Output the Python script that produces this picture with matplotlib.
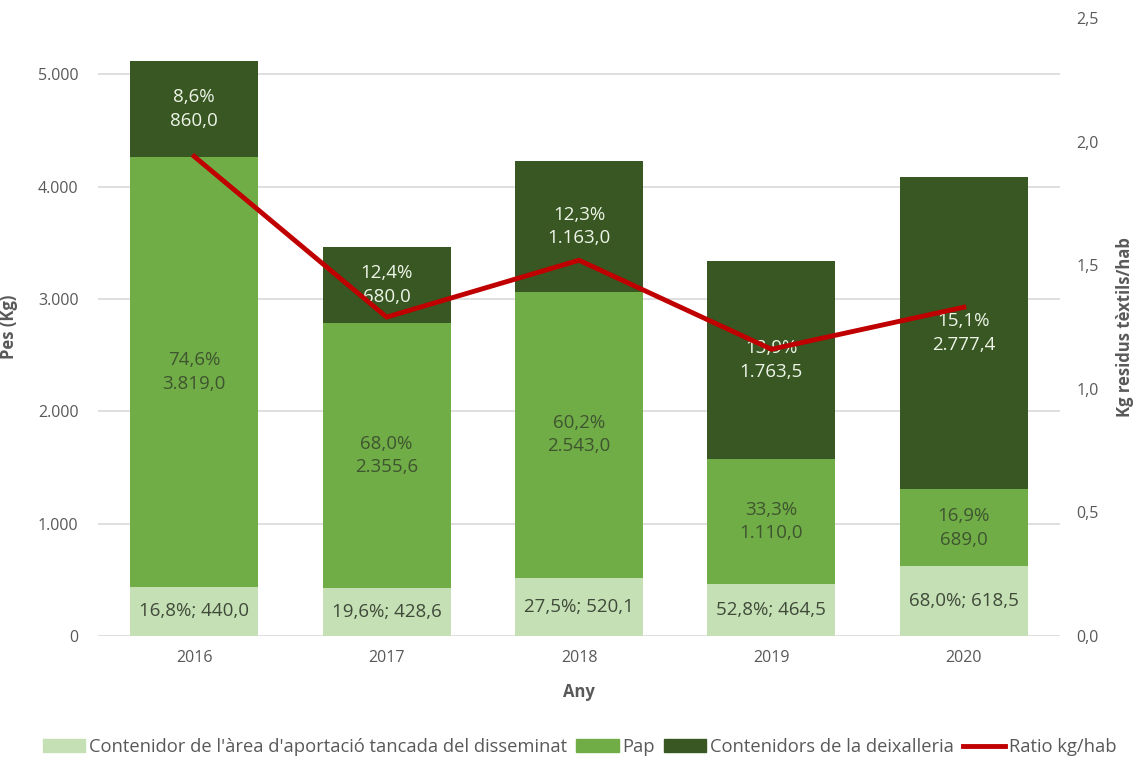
import numpy as np
import matplotlib.pyplot as plt
from matplotlib.patches import Patch
from matplotlib.lines import Line2D

plt.rcParams['font.family'] = ['Open Sans', 'DejaVu Sans']

years = ['2016', '2017', '2018', '2019', '2020']
disseminat = [440.0, 428.6, 520.1, 464.5, 618.5]
pap = [3819.0, 2355.6, 2543.0, 1110.0, 689.0]
deixalleria = [860.0, 680.0, 1163.0, 1763.5, 2777.4]
ratio = [1.94, 1.29, 1.52, 1.16, 1.33]

pct_disseminat = ['16,8%', '19,6%', '27,5%', '52,8%', '68,0%']
pct_pap = ['74,6%', '68,0%', '60,2%', '33,3%', '16,9%']
pct_deixalleria = ['8,6%', '12,4%', '12,3%', '13,9%', '15,1%']

c_light = '#c5e0b4'
c_mid = '#70ad47'
c_dark = '#385723'
c_red = '#c00000'
grey = '#595959'


def fmt(v):
    s = '{:,.1f}'.format(v)
    return s.replace(',', 'X').replace('.', ',').replace('X', '.')


fig = plt.figure(figsize=(11.37, 7.6), dpi=100)
ax = fig.add_axes([0.0862, 0.1632, 0.8461, 0.8131])
x = np.arange(len(years))
w = 0.665

b1 = np.array(disseminat)
b2 = b1 + np.array(pap)
ax.bar(x, disseminat, w, color=c_light, zorder=2)
ax.bar(x, pap, w, bottom=b1, color=c_mid, zorder=2)
ax.bar(x, deixalleria, w, bottom=b2, color=c_dark, zorder=2)

for i in range(len(years)):
    ax.text(x[i], disseminat[i] / 2, pct_disseminat[i] + '; ' + fmt(disseminat[i]),
            ha='center', va='center', fontsize=13.5, color='#404a3a', zorder=5)
    ax.text(x[i], b1[i] + pap[i] / 2, pct_pap[i] + '\n' + fmt(pap[i]),
            ha='center', va='center', fontsize=13.5, color='#3f5530',
            linespacing=1.4, zorder=5)
    ax.text(x[i], b2[i] + deixalleria[i] / 2, pct_deixalleria[i] + '\n' + fmt(deixalleria[i]),
            ha='center', va='center', fontsize=13.5, color='#eef5e8',
            linespacing=1.4, zorder=5)

ax.set_xlim(-0.5, len(years) - 0.5)
ax.set_ylim(0, 5500)
ax.set_yticks(np.arange(0, 5001, 1000))
ax.set_yticklabels(['0', '1.000', '2.000', '3.000', '4.000', '5.000'])
ax.set_xticks(x)
ax.set_xticklabels(years)
ax.grid(axis='y', color='#d9d9d9', linewidth=1.2, zorder=0)
for s in ax.spines.values():
    s.set_visible(False)
ax.tick_params(length=0, colors=grey, labelsize=11.5)
ax.tick_params(axis='y', pad=14)
ax.tick_params(axis='x', pad=10)
ax.set_xlabel('Any', fontsize=12, fontweight='bold', color=grey, labelpad=12)
ax.set_ylabel('Pes (Kg)', fontsize=12, fontweight='bold', color=grey, labelpad=14)

ax2 = ax.twinx()
ax2.plot(x, ratio, color=c_red, linewidth=3.5, zorder=3)
ax2.set_ylim(0, 2.5)
ax2.set_yticks(np.arange(0, 2.51, 0.5))
ax2.set_yticklabels(['0,0', '0,5', '1,0', '1,5', '2,0', '2,5'])
for s in ax2.spines.values():
    s.set_visible(False)
ax2.tick_params(length=0, colors=grey, labelsize=11.5, pad=12)
ax2.set_ylabel('Kg residus tèxtils/hab', fontsize=12, fontweight='bold',
               color=grey, labelpad=12)

handles = [Patch(color=c_light), Patch(color=c_mid), Patch(color=c_dark),
           Line2D([0], [0], color=c_red, linewidth=3.5)]
labels = ["Contenidor de l'àrea d'aportació tancada del disseminat", 'Pap',
          'Contenidors de la deixalleria', 'Ratio kg/hab']
fig.legend(handles, labels, loc='center', bbox_to_anchor=(0.51, 0.017),
           ncol=4, frameon=False, fontsize=13.2, labelcolor=grey,
           handlelength=2.3, handletextpad=0.2, columnspacing=0.5)

fig.savefig('out.png', dpi=100)
